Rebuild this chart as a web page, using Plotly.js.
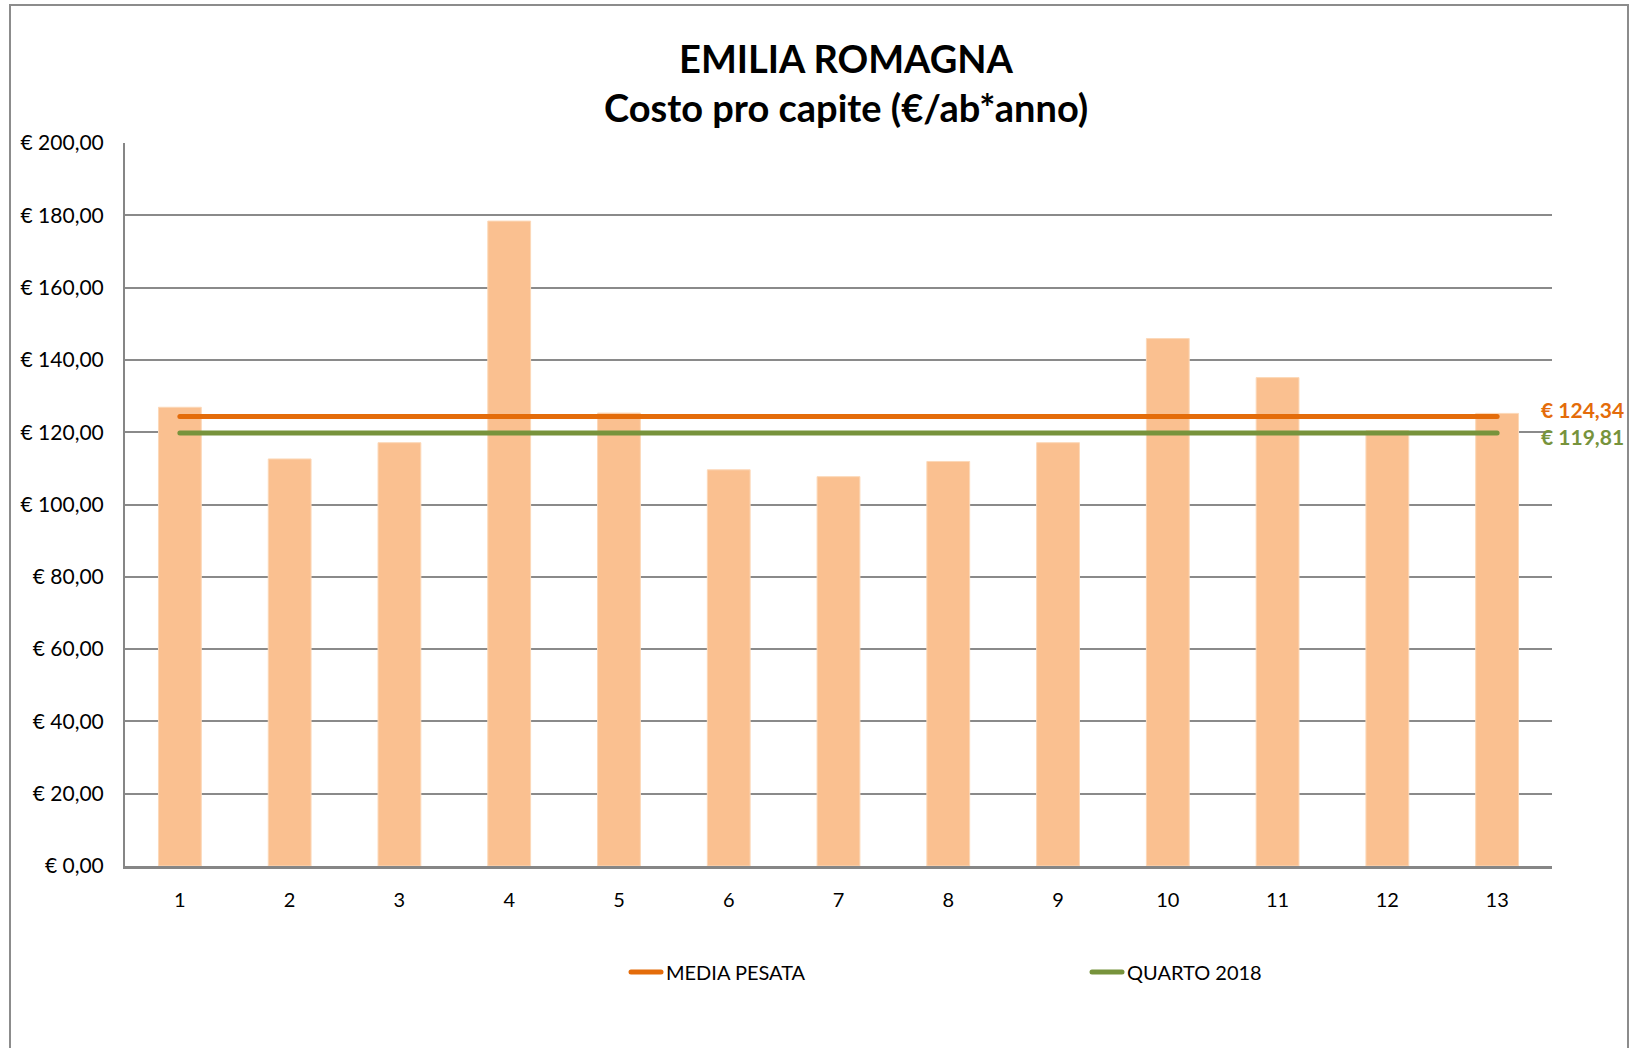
<!DOCTYPE html>
<html>
<head>
<meta charset="utf-8">
<script src="https://cdn.plot.ly/plotly-3.0.1.min.js"></script>
<style>
  html, body { margin: 0; padding: 0; background: #ffffff; }
  #frame { position: absolute; left: 9px; top: 4px; width: 1616px; height: 1060px;
           border-left: 2px solid #8c8c8c; border-top: 2px solid #8c8c8c; border-right: 2px solid #8c8c8c; }
  #chart { position: absolute; left: 0; top: 0; width: 1629px; height: 1048px; }
  .js-line { stroke-linecap: round; }
</style>
</head>
<body>
<div id="frame"></div>
<div id="chart"></div>
<script>
// Categories (x-axis)
const categories = [1, 2, 3, 4, 5, 6, 7, 8, 9, 10, 11, 12, 13];
const tickLabels = ["1", "2", "3", "4", "5", "6", "7", "8", "9", "10", "11", "12", "13"];
// Cost per capita (€/inhabitant*year)
const costoProCapite = [126.9, 112.6, 117.1, 178.4, 125.3, 109.6, 107.7, 111.9, 117.1, 145.9, 135.1, 120.4, 125.2];
// Reference lines
const mediaPesata = [124.34, 124.34, 124.34, 124.34, 124.34, 124.34, 124.34, 124.34, 124.34, 124.34, 124.34, 124.34, 124.34];
const quarto2018 = [119.81, 119.81, 119.81, 119.81, 119.81, 119.81, 119.81, 119.81, 119.81, 119.81, 119.81, 119.81, 119.81];
const seriesNames = ["MEDIA PESATA", "QUARTO 2018"];
const endLabels = ["€ 124,34", "€ 119,81"];
const yTicks = [0, 20, 40, 60, 80, 100, 120, 140, 160, 180, 200];
const yTickLabels = ["€ 0,00", "€ 20,00", "€ 40,00", "€ 60,00", "€ 80,00", "€ 100,00",
                     "€ 120,00", "€ 140,00", "€ 160,00", "€ 180,00", "€ 200,00"];

const FONT = "Lato, 'Open Sans', sans-serif";
const ORANGE = "#E46C0A";
const GREEN = "#77933C";

const traces = [
  {
    type: "bar",
    x: categories,
    y: costoProCapite,
    marker: { color: "#FAC090", line: { color: "#FCD8B8", width: 1 } },
    width: 0.39,
    showlegend: false,
    hoverinfo: "x+y"
  },
  {
    type: "scatter",
    mode: "lines",
    name: seriesNames[0],
    x: categories,
    y: mediaPesata,
    line: { color: ORANGE, width: 5 }
  },
  {
    type: "scatter",
    mode: "lines",
    name: seriesNames[1],
    x: categories,
    y: quarto2018,
    line: { color: GREEN, width: 5 }
  }
];

const layout = {
  width: 1629,
  height: 1048,
  paper_bgcolor: "rgba(0,0,0,0)",
  plot_bgcolor: "rgba(0,0,0,0)",
  margin: { l: 125, r: 77, t: 143, b: 182, pad: 0 },
  font: { family: FONT, color: "#000000", size: 20 },
  title: {
    text: "EMILIA ROMAGNA<br>Costo pro capite (€/ab*anno)",
    font: { family: FONT, size: 38, weight: 700, color: "#000000" },
    xref: "container",
    x: 846 / 1629,
    xanchor: "center",
    yref: "container",
    y: 1 - 73 / 1048,
    yanchor: "middle"
  },
  xaxis: {
    type: "linear",
    range: [0.5, 13.5],
    tickmode: "array",
    tickvals: categories,
    ticktext: tickLabels,
    showgrid: false,
    zeroline: false,
    showline: true,
    linecolor: "#868686",
    linewidth: 2.5,
    ticks: "",
    ticklabelstandoff: 14,
    tickfont: { family: FONT, size: 20, color: "#000000" },
    fixedrange: true
  },
  yaxis: {
    range: [0, 200],
    tickmode: "array",
    tickvals: yTicks,
    ticktext: yTickLabels,
    showgrid: true,
    gridcolor: "#8a8a8a",
    gridwidth: 1.5,
    zeroline: false,
    showline: true,
    linecolor: "#868686",
    linewidth: 2,
    ticks: "",
    ticklabelstandoff: 15,
    tickfont: { family: FONT, size: 21, color: "#000000" },
    fixedrange: true
  },
  showlegend: true,
  legend: {
    orientation: "h",
    x: (626 - 125) / 1427,
    xanchor: "left",
    y: (866 - 972) / 723,
    yanchor: "middle",
    entrywidth: 416,
    entrywidthmode: "pixels",
    font: { family: FONT, size: 20, color: "#000000" },
    bgcolor: "rgba(0,0,0,0)"
  },
  annotations: [
    {
      x: categories[categories.length - 1],
      y: mediaPesata[mediaPesata.length - 1],
      xref: "x", yref: "y",
      text: endLabels[0],
      showarrow: false,
      xanchor: "left",
      yanchor: "middle",
      xshift: 42,
      yshift: 7,
      font: { family: FONT, size: 21, weight: 700, color: ORANGE }
    },
    {
      x: categories[categories.length - 1],
      y: quarto2018[quarto2018.length - 1],
      xref: "x", yref: "y",
      text: endLabels[1],
      showarrow: false,
      xanchor: "left",
      yanchor: "middle",
      xshift: 42,
      yshift: -4,
      font: { family: FONT, size: 21, weight: 700, color: GREEN }
    }
  ],
  hovermode: "closest"
};

Plotly.newPlot("chart", traces, layout, { displayModeBar: false });
</script>
</body>
</html>
